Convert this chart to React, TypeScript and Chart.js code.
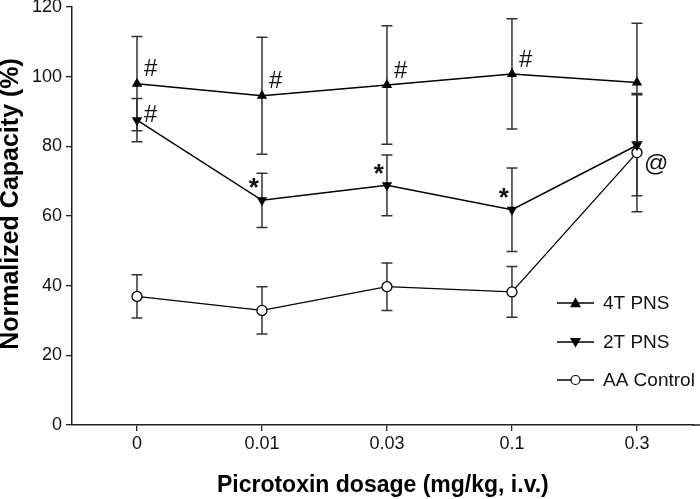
import React, { useEffect, useRef } from "react";
import { Chart, registerables } from "chart.js";

Chart.register(...registerables);

const categories = ["0", "0.01", "0.03", "0.1", "0.3"];
const seriesNames = ["4T PNS", "2T PNS", "AA Control"];
const pns4T = [98, 94.5, 97.6, 100.8, 98.3];
const pns4TErr = [13.5, 16.8, 17, 15.8, 17];
const pns2T = [87.5, 64.5, 68.8, 61.8, 80.3];
const pns2TErr = [6.2, 7.8, 8.7, 12, 14.5];
const aaControl = [36.9, 32.9, 39.7, 38.2, 78.2];
const aaControlErr = [6.2, 6.8, 6.8, 7.3, 17];
const yTicks = [0, 20, 40, 60, 80, 100, 120];
const xTitle = "Picrotoxin dosage (mg/kg, i.v.)";
const yTitle = "Normalized Capacity (%)";

const annotations: [number, number, string][] = [
  [0, 0, "#"],
  [0, 1, "#"],
  [0, 2, "#"],
  [0, 3, "#"],
  [1, 0, "#"],
  [1, 1, "*"],
  [1, 2, "*"],
  [1, 3, "*"],
  [2, 4, "@"],
];

const FONT = "'Liberation Sans', Arial, Helvetica, sans-serif";

const errorBarPlugin = {
  id: "errorBars",
  beforeDatasetsDraw(chart: any) {
    const ctx = chart.ctx;
    const y = chart.scales.y;
    const x = chart.scales.x;
    ctx.save();
    ctx.strokeStyle = "#333";
    ctx.lineWidth = 1.5;
    chart.data.datasets.forEach((ds: any) => {
      ds.data.forEach((pt: any, i: number) => {
        const e = ds.errors[i];
        const px = x.getPixelForValue(pt.x);
        const top = y.getPixelForValue(pt.y + e);
        const bot = y.getPixelForValue(pt.y - e);
        ctx.beginPath();
        ctx.moveTo(px, top);
        ctx.lineTo(px, bot);
        ctx.moveTo(px - 5.5, top);
        ctx.lineTo(px + 5.5, top);
        ctx.moveTo(px - 5.5, bot);
        ctx.lineTo(px + 5.5, bot);
        ctx.stroke();
      });
    });
    ctx.restore();
  },
};

const annotationPlugin = {
  id: "annots",
  afterDatasetsDraw(chart: any) {
    const ctx = chart.ctx;
    ctx.save();
    ctx.fillStyle = "#111";
    ctx.textBaseline = "middle";
    annotations.forEach(([d, i, t]) => {
      const el = chart.getDatasetMeta(d).data[i];
      const px = el.x;
      const py = el.y;
      if (t === "#") {
        ctx.font = `24px ${FONT}`;
        ctx.textAlign = "left";
        ctx.fillText(t, px + 7, d === 1 ? py - 5 : py - 14);
      } else if (t === "*") {
        ctx.font = `bold 26px ${FONT}`;
        ctx.textAlign = "right";
        ctx.fillText(t, px - 3, py - 11);
      } else {
        ctx.font = `24px ${FONT}`;
        ctx.textAlign = "left";
        ctx.fillText(t, px + 7, py + 12);
      }
    });
    ctx.restore();
  },
};

const titlesAndLegendPlugin = {
  id: "customLegend",
  afterDraw(chart: any) {
    const ctx = chart.ctx;
    const area = chart.chartArea;
    // extend x-axis line to the right edge
    ctx.save();
    ctx.strokeStyle = "#222";
    ctx.lineWidth = 1.5;
    ctx.beginPath();
    ctx.moveTo(area.right - 1, area.bottom);
    ctx.lineTo(chart.width, area.bottom);
    ctx.stroke();
    ctx.restore();

    ctx.save();
    ctx.fillStyle = "#000";
    ctx.font = `bold 25px ${FONT}`;
    ctx.textAlign = "center";
    ctx.textBaseline = "middle";
    ctx.translate(11, (area.top + area.bottom) / 2 - 12);
    ctx.rotate(-Math.PI / 2);
    ctx.fillText(yTitle, 0, 0);
    ctx.restore();

    ctx.save();
    const x0 = 557;
    const rows = [area.top + 296, area.top + 335, area.top + 373];
    chart.data.datasets.forEach((ds: any, k: number) => {
      const yy = rows[k];
      ctx.strokeStyle = "#000";
      ctx.lineWidth = 1.5;
      ctx.beginPath();
      ctx.moveTo(x0, yy);
      ctx.lineTo(x0 + 37, yy);
      ctx.stroke();
      const cx = x0 + 18.5;
      ctx.fillStyle = "#000";
      if (k === 2) {
        ctx.fillStyle = "#fff";
        ctx.lineWidth = 1.2;
        ctx.beginPath();
        ctx.arc(cx, yy, 4.5, 0, Math.PI * 2);
        ctx.fill();
        ctx.stroke();
      } else {
        const s = 5.5;
        const dir = k === 0 ? 1 : -1;
        ctx.beginPath();
        ctx.moveTo(cx, yy - dir * s);
        ctx.lineTo(cx - s, yy + dir * s * 0.75);
        ctx.lineTo(cx + s, yy + dir * s * 0.75);
        ctx.closePath();
        ctx.fill();
      }
      ctx.fillStyle = "#111";
      ctx.font = `19px ${FONT}`;
      ctx.textAlign = "left";
      ctx.textBaseline = "middle";
      ctx.fillText(seriesNames[k], x0 + 46, yy + 1);
    });
    ctx.restore();
  },
};

export default function App() {
  const ref = useRef<HTMLCanvasElement | null>(null);
  useEffect(() => {
    if (!ref.current) return;
    const mk = (vals: number[]) => vals.map((v, i) => ({ x: i, y: v }));
    const chart = new Chart(ref.current, {
      type: "line",
      data: {
        datasets: [
          {
            label: seriesNames[0],
            data: mk(pns4T),
            errors: pns4TErr,
            borderColor: "#000",
            backgroundColor: "#000",
            borderWidth: 1.5,
            pointStyle: "triangle",
            pointRadius: 6,
            pointBorderWidth: 0,
            pointBackgroundColor: "#000",
          } as any,
          {
            label: seriesNames[1],
            data: mk(pns2T),
            errors: pns2TErr,
            borderColor: "#000",
            backgroundColor: "#000",
            borderWidth: 1.5,
            pointStyle: "triangle",
            pointRotation: 180,
            pointRadius: 6,
            pointBorderWidth: 0,
            pointBackgroundColor: "#000",
          } as any,
          {
            label: seriesNames[2],
            data: mk(aaControl),
            errors: aaControlErr,
            borderColor: "#000",
            backgroundColor: "#fff",
            borderWidth: 1.3,
            pointStyle: "circle",
            pointRadius: 5,
            pointBorderWidth: 1.3,
            pointBackgroundColor: "#fff",
            pointBorderColor: "#000",
          } as any,
        ],
      },
      options: {
        animation: false,
        responsive: false,
        maintainAspectRatio: false,
        layout: { padding: { top: 7, right: 0, left: 0, bottom: 0 } },
        plugins: {
          legend: { display: false },
          tooltip: { enabled: false },
        },
        scales: {
          x: {
            type: "linear",
            min: -0.52,
            max: 4.454,
            afterBuildTicks: (scale: any) => {
              scale.ticks = categories.map((_, i) => ({ value: i }));
            },
            afterFit: (scale: any) => {
              scale.height = 74;
            },
            grid: {
              display: true,
              drawOnChartArea: false,
              drawTicks: true,
              tickLength: 6,
              color: "#222",
              lineWidth: 1.3,
            },
            border: { display: true, color: "#222", width: 1.5 },
            ticks: {
              autoSkip: false,
              maxRotation: 0,
              padding: 2,
              color: "#111",
              font: { family: FONT, size: 18 },
              callback: (v: any) => categories[v as number] ?? "",
            },
            title: {
              display: true,
              text: xTitle,
              color: "#000",
              font: { family: FONT, size: 23, weight: "bold" },
              padding: { top: 4, bottom: 0 },
            },
          },
          y: {
            min: 0,
            max: 120,
            afterBuildTicks: (scale: any) => {
              scale.ticks = yTicks.map((v) => ({ value: v }));
            },
            afterFit: (scale: any) => {
              scale.width = 72;
              scale.paddingTop = 0;
              scale.paddingBottom = 0;
            },
            grid: {
              display: true,
              drawOnChartArea: false,
              drawTicks: true,
              tickLength: 6,
              color: "#222",
              lineWidth: 1.3,
            },
            border: { display: true, color: "#222", width: 1.5 },
            ticks: {
              padding: 4,
              color: "#111",
              font: { family: FONT, size: 18 },
            },
          },
        },
      } as any,
      plugins: [errorBarPlugin, annotationPlugin, titlesAndLegendPlugin],
    });
    return () => chart.destroy();
  }, []);
  return (
    <div style={{ position: "fixed", left: 0, top: 0, width: 700, height: 499, background: "#fff" }}>
      <canvas ref={ref} width={700} height={499} style={{ width: 700, height: 499 }} />
    </div>
  );
}
